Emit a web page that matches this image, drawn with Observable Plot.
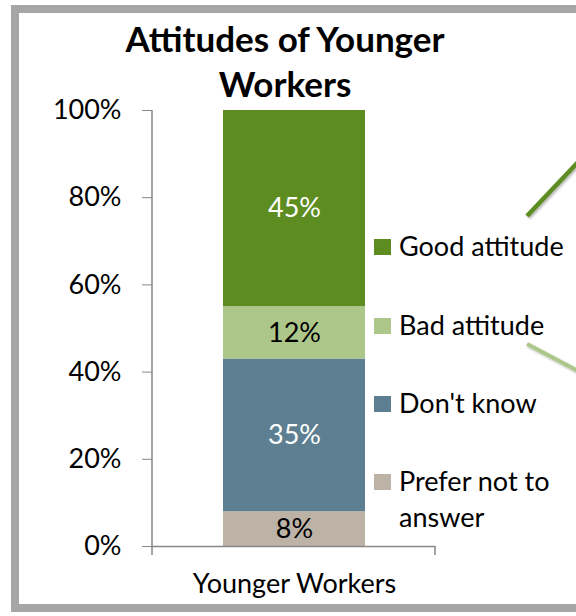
<!DOCTYPE html>
<html><head><meta charset="utf-8">
<script src="https://cdn.jsdelivr.net/npm/d3@7"></script>
<script src="https://cdn.jsdelivr.net/npm/@observablehq/plot@0.6"></script>
<style>
html,body{margin:0;padding:0;background:#fff;overflow:hidden}
#wrap{position:relative;width:576px;height:616px;overflow:hidden;font-family:Lato,sans-serif}
#border{position:absolute;left:11px;top:5px;width:640px;height:607px;box-sizing:border-box;border:8px solid #a6a6a6}
#wrap svg{position:absolute;left:0;top:0}
</style></head><body><div id="wrap"><div id="border"></div></div>
<script>
// ---- data ----
const categories = ["Prefer not to answer", "Don't know", "Bad attitude", "Good attitude"]; // bottom to top
const values = [8, 35, 12, 45];
const group = "Younger Workers";
const colors = ["#bcb2a5", "#5e7f91", "#adc78a", "#5d8c21"];
const darkLabelCategories = ["Don't know", "Good attitude"];
const yTicks = [0, 0.2, 0.4, 0.6, 0.8, 1];
const legendOrder = ["Good attitude", "Bad attitude", "Don't know", "Prefer not to answer"];
const legendLines = [["Good attitude"], ["Bad attitude"], ["Don't know"], ["Prefer not to", "answer"]];
const titleLines = ["Attitudes of Younger", "Workers"];

const data = categories.map((c, i) => ({group, category: c, value: values[i] / 100}));
const label = d => Math.round(d.value * 100) + "%";

const W = 576, H = 616;
const axisColor = "#868686";
const fs = 27;

const chart = Plot.plot({
  width: W, height: H,
  marginLeft: 152, marginRight: 141, marginTop: 110, marginBottom: 70,
  style: {fontFamily: "Lato, sans-serif", fontSize: fs + "px", color: "#000", background: "transparent", overflow: "visible"},
  x: {domain: [group], padding: 0.332, label: null},
  y: {domain: [0, 1], label: null},
  color: {domain: categories, range: colors},
  marks: [
    Plot.barY(data, {x: "group", y: "value", fill: "category", order: null}),
    Plot.text(data, Plot.stackY({x: "group", y: "value", z: "category", order: null,
      text: d => darkLabelCategories.includes(d.category) ? label(d) : "", fill: "white", fontSize: fs})),
    Plot.text(data, Plot.stackY({x: "group", y: "value", z: "category", order: null,
      text: d => darkLabelCategories.includes(d.category) ? "" : label(d), fill: "black", fontSize: fs})),
    Plot.axisY({ticks: yTicks, tickFormat: d3.format(".0%"), tickSize: 10, tickPadding: 21, stroke: axisColor, fill: "#000", fontSize: fs, label: null}),
    Plot.axisX({tickSize: 0, tickPadding: 27, fill: "#000", fontSize: fs, label: null}),
    Plot.ruleY([0], {stroke: axisColor, strokeWidth: 1.5})
  ]
});
document.getElementById("wrap").appendChild(chart);

// axis line + category boundary ticks, derived from the chart's scales
const xs = chart.scale("x"), ys = chart.scale("y");
const yTop = ys.apply(1), yBot = ys.apply(0);
const svg = d3.select(chart);
const g = svg.append("g").attr("stroke", axisColor).attr("stroke-width", 1.5);
g.append("line").attr("x1", xs.range[0]).attr("x2", xs.range[0]).attr("y1", yTop).attr("y2", yBot + 9);
g.append("line").attr("x1", xs.range[1]).attr("x2", xs.range[1]).attr("y1", yBot).attr("y2", yBot + 9);

// overlay: title, legend, decorative connector lines
const ov = d3.select("#wrap").append("svg").attr("width", W).attr("height", H)
  .style("font-family", "Lato, sans-serif");
const cx = 285;
ov.append("text").attr("x", cx).attr("y", 52).attr("text-anchor", "middle")
  .attr("font-size", 35).attr("font-weight", 700).text(titleLines[0]);
ov.append("text").attr("x", cx).attr("y", 97).attr("text-anchor", "middle")
  .attr("font-size", 35).attr("font-weight", 700).text(titleLines[1]);

const legendBase = [256, 335, 413, 491];
legendOrder.forEach((c, i) => {
  const col = colors[categories.indexOf(c)];
  ov.append("rect").attr("x", 374).attr("y", legendBase[i] - 17).attr("width", 17).attr("height", 16).attr("fill", col);
  legendLines[i].forEach((t, j) => {
    ov.append("text").attr("x", 399).attr("y", legendBase[i] + j * 36).attr("font-size", fs).text(t);
  });
});

const defs = ov.append("defs");
const f = defs.append("filter").attr("id", "sh").attr("x", "-20%").attr("y", "-20%").attr("width", "140%").attr("height", "140%");
f.append("feDropShadow").attr("dx", 1.5).attr("dy", 1.5).attr("stdDeviation", 1).attr("flood-color", "#000").attr("flood-opacity", 0.3);
ov.append("line").attr("x1", 527).attr("y1", 216).attr("x2", 580).attr("y2", 160)
  .attr("stroke", colors[3]).attr("stroke-width", 4.5).attr("filter", "url(#sh)");
ov.append("line").attr("x1", 527).attr("y1", 344).attr("x2", 580).attr("y2", 372)
  .attr("stroke", colors[2]).attr("stroke-width", 4).attr("filter", "url(#sh)");
</script></body></html>
